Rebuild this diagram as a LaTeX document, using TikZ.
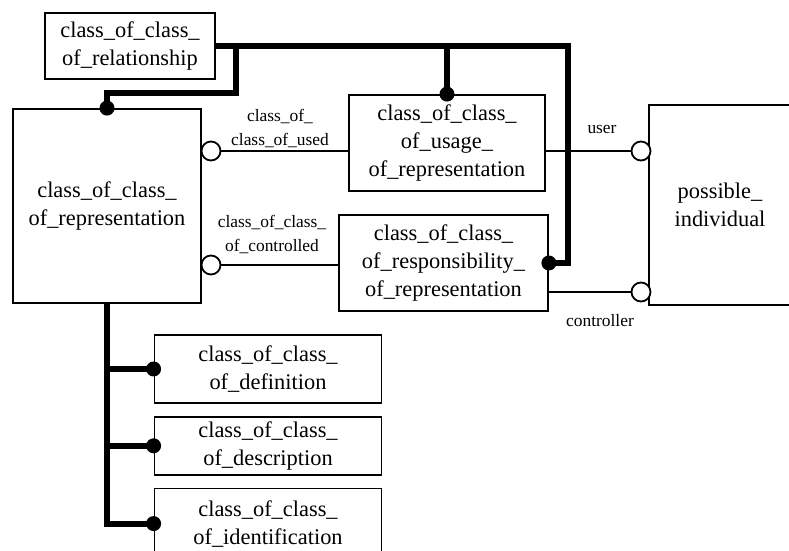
\documentclass[tikz,border=0pt]{standalone}
\usepackage{fontspec}
\setmainfont{Liberation Serif}
\usetikzlibrary{positioning}

\begin{document}
\begin{tikzpicture}[x=0.5pt,y=-0.5pt,every node/.style={font=\fontsize{11.2}{14}\selectfont},
  box/.style={draw,line width=0.9pt,align=center,inner sep=0pt},
  lbl/.style={font=\fontsize{8.7}{12}\selectfont,align=center,inner sep=0pt},
  bar/.style={line width=3pt},ln/.style={line width=0.9pt},
  hollow/.style={circle,draw,fill=white,line width=0.9pt,minimum size=9.5pt,inner sep=0pt},
  blob/.style={circle,fill,minimum size=7.5pt,inner sep=0pt},node distance=6pt]
\clip (0,0) rectangle (789,551);
\node[box,minimum width=85pt,minimum height=33pt] (ccrel) at (130,46) {class\_of\_class\_\\of\_relationship};
\node[box,minimum width=94pt,minimum height=97pt] (ccrep) at (107,206) {class\_of\_class\_\\of\_representation};
\node[box,minimum width=98pt,minimum height=48pt] (ccuse) at (447,143) {class\_of\_class\_\\of\_usage\_\\of\_representation};
\node[box,minimum width=104.5pt,minimum height=48pt] (ccresp) at (443.5,263) {class\_of\_class\_\\of\_responsibility\_\\of\_representation};
\node[box,minimum width=71pt,minimum height=100pt] (poss) at (720,205) {possible\_\\individual};
\node[box,minimum width=113.5pt,minimum height=34pt] (ccdef) at (268,369) {class\_of\_class\_\\of\_definition};
\node[box,minimum width=113.5pt,minimum height=29pt,below=6pt of ccdef] (ccdesc) {class\_of\_class\_\\of\_description};
\node[box,minimum width=113.5pt,minimum height=35pt,below=6pt of ccdesc] (ccident) {class\_of\_class\_\\of\_identification};
\coordinate (turn) at (568,46);
\coordinate (kink) at (236,93);
\draw[bar] (ccrel.east) -- (turn) |- (ccresp.east);
\draw[bar] (ccuse.north |- ccrel.east) -- (ccuse.north);
\draw[bar] (kink |- ccrel.east) -- (kink) -| (ccrep.north);
\draw[bar] (ccrep.south) |- (ccident.west);
\draw[bar] (ccrep.south |- ccdef.west) -- (ccdef.west);
\draw[bar] (ccrep.south |- ccdesc.west) -- (ccdesc.west);
\node[blob] (brep) at (ccrep.north) {};
\node[blob] (buse) at (ccuse.north) {};
\node[blob] (bresp) at (ccresp.east) {};
\node[blob] (bdef) at (ccdef.west) {};
\node[blob] (bdesc) at (ccdesc.west) {};
\node[blob] (bident) at (ccident.west) {};
\node[hollow] (oused) at (211,151) {};
\node[hollow] (octld) at (211,265) {};
\node[hollow] (ouser) at (641,151) {};
\node[hollow] (octrl) at (641,292) {};
\draw[ln] (oused) -- (oused -| ccuse.west);
\draw[ln] (octld) -- (octld -| ccresp.west);
\draw[ln] (ccuse.east |- ouser) -- (ouser);
\draw[ln] (ccresp.east |- octrl) -- (octrl);
\node[lbl] (lused) at (280,128) {class\_of\_\\class\_of\_used};
\node[lbl] (lctld) at (272,234) {class\_of\_class\_\\of\_controlled};
\node[lbl] (luser) at (602,129) {user};
\node[lbl] (lctrl) at (600,321) {controller};
\end{tikzpicture}
\end{document}
